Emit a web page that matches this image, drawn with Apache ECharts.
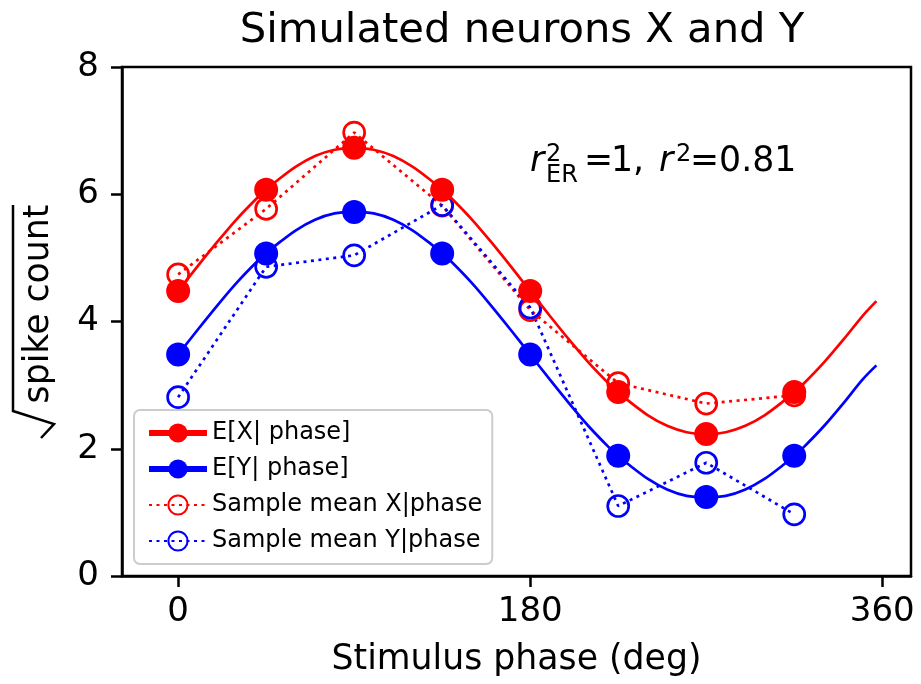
<!DOCTYPE html>
<html>
<head>
<meta charset="utf-8">
<script src="https://cdn.jsdelivr.net/npm/echarts@6.0.0/dist/echarts.min.js"></script>
<style>
  html, body { margin: 0; padding: 0; background: #fff; }
  #chart { width: 921px; height: 684px; }
</style>
</head>
<body>
<div id="chart"></div>
<script>
// smooth curves, every 10 deg plus the stimulus phases,
// last point where the curve stops
var curveAngles = [0, 10, 20, 30, 40, 45, 50, 60, 70, 80, 90, 100, 110, 120, 130, 135, 140, 150, 160, 170,
  180, 190, 200, 210, 220, 225, 230, 240, 250, 260, 270, 280, 290, 300, 310, 315, 320, 330, 340, 350, 357]
var curveX = [4.48, 4.87, 5.25, 5.61, 5.93, 6.07, 6.20, 6.43, 6.60, 6.70, 6.73, 6.70, 6.60, 6.43, 6.20, 6.07, 5.93, 5.61, 5.25, 4.87,
  4.48, 4.09, 3.71, 3.35, 3.03, 2.89, 2.76, 2.53, 2.36, 2.26, 2.23, 2.26, 2.36, 2.53, 2.76, 2.89, 3.03, 3.35, 3.71, 4.09, 4.32]
var curveY = [3.48, 3.87, 4.25, 4.61, 4.93, 5.07, 5.20, 5.43, 5.60, 5.70, 5.72, 5.70, 5.60, 5.43, 5.20, 5.07, 4.93, 4.61, 4.25, 3.87,
  3.48, 3.09, 2.71, 2.35, 2.03, 1.89, 1.76, 1.53, 1.36, 1.26, 1.24, 1.26, 1.36, 1.53, 1.76, 1.89, 2.03, 2.35, 2.71, 3.09, 3.31]

// sample means at the stimulus phases
var phases = [0, 45, 90, 135, 180, 225, 270, 315]
var sampleX = [4.74, 5.77, 6.97, 5.82, 4.18, 3.03, 2.71, 2.84]
var sampleY = [2.81, 4.86, 5.04, 5.83, 4.22, 1.10, 1.78, 0.97]

var xTicks = [0, 180, 360]
var yTicks = [0, 2, 4, 6, 8]

var FONT = 'DejaVu Sans'
var RED = '#ff0000'
var BLUE = '#0000ff'

function curveData (vals) {
  return curveAngles.map(function (a, i) {
    var onPhase = phases.indexOf(a) >= 0
    return { value: [a, vals[i]], symbol: onPhase ? 'circle' : 'none' }
  })
}
function pairs (vals) {
  return phases.map(function (p, i) { return [p, vals[i]] })
}

var chart = echarts.init(document.getElementById('chart'))
chart.setOption({
  animation: false,
  backgroundColor: '#fff',
  title: {
    text: 'Simulated neurons X and Y',
    left: 517,
    textAlign: 'center',
    top: 5,
    textStyle: { fontFamily: FONT, fontSize: 41.7, fontWeight: 'normal', color: '#000' }
  },
  grid: {
    left: 122, right: 10, top: 67, bottom: 108,
    show: true, borderColor: '#000', borderWidth: 2.5, backgroundColor: 'transparent'
  },
  xAxis: {
    type: 'value',
    min: -28.7,
    max: 374.7,
    name: 'Stimulus phase (deg)',
    nameLocation: 'middle',
    nameGap: 66,
    nameTextStyle: { fontFamily: FONT, fontSize: 34.7, color: '#000' },
    axisLine: { show: true, onZero: false, lineStyle: { color: '#000', width: 2.5 } },
    axisTick: { show: true, inside: false, length: 11, customValues: xTicks, lineStyle: { color: '#000', width: 2.5 } },
    axisLabel: { customValues: xTicks, margin: 19, fontFamily: FONT, fontSize: 34, color: '#000' },
    splitLine: { show: false }
  },
  yAxis: {
    type: 'value',
    min: 0,
    max: 8,
    interval: 2,
    axisLine: { show: true, onZero: false, lineStyle: { color: '#000', width: 2.5 } },
    axisTick: { show: true, inside: false, length: 11, customValues: yTicks, lineStyle: { color: '#000', width: 2.5 } },
    axisLabel: { customValues: yTicks, margin: 23, fontFamily: FONT, fontSize: 34, color: '#000' },
    splitLine: { show: false }
  },
  legend: {
    orient: 'vertical',
    left: 134,
    top: 410,
    itemWidth: 58,
    itemHeight: 24,
    itemGap: 12,
    padding: [11, 10, 11, 12],
    backgroundColor: 'rgba(255,255,255,0.8)',
    borderColor: '#cccccc',
    borderWidth: 2,
    borderRadius: 6,
    textStyle: { fontFamily: FONT, fontSize: 24, color: '#000' },
    data: [
      { name: 'E[X| phase]', lineStyle: { width: 6 } },
      { name: 'E[Y| phase]', lineStyle: { width: 6 } },
      { name: 'Sample mean X|phase' },
      { name: 'Sample mean Y|phase' }
    ]
  },
  series: [
    {
      name: 'Sample mean X|phase',
      type: 'line',
      z: 2,
      data: pairs(sampleX),
      symbol: 'circle',
      symbolSize: 21,
      itemStyle: { color: 'rgba(255,255,255,0)', borderColor: RED, borderWidth: 2.7 },
      lineStyle: { color: RED, width: 2.7, type: [3, 4.5] }
    },
    {
      name: 'Sample mean Y|phase',
      type: 'line',
      z: 2,
      data: pairs(sampleY),
      symbol: 'circle',
      symbolSize: 21,
      itemStyle: { color: 'rgba(255,255,255,0)', borderColor: BLUE, borderWidth: 2.7 },
      lineStyle: { color: BLUE, width: 2.7, type: [3, 4.5] }
    },
    {
      name: 'E[X| phase]',
      type: 'line',
      z: 3,
      smooth: 0.3,
      data: curveData(curveX),
      symbol: 'circle',
      symbolSize: 24,
      showAllSymbol: true,
      itemStyle: { color: RED },
      lineStyle: { color: RED, width: 2.7 }
    },
    {
      name: 'E[Y| phase]',
      type: 'line',
      z: 3,
      smooth: 0.3,
      data: curveData(curveY),
      symbol: 'circle',
      symbolSize: 24,
      showAllSymbol: true,
      itemStyle: { color: BLUE },
      lineStyle: { color: BLUE, width: 2.7 }
    }
  ],
  graphic: [
    // y axis label: sqrt(spike count)
    {
      type: 'polyline',
      shape: { points: [[13, 205], [13, 411], [54, 424], [41, 438]] },
      style: { stroke: '#000', lineWidth: 2.5, fill: null }
    },
    {
      type: 'text',
      x: 39, y: 304, rotation: Math.PI / 2,
      style: { text: 'spike count', font: '34.7px "DejaVu Sans"', fill: '#000', align: 'center', verticalAlign: 'middle' }
    },
    // annotation r^2_ER = 1, r^2=0.81
    { type: 'text', x: 530, y: 161.5, style: { text: 'r', font: 'italic 34.7px "DejaVu Sans"', fill: '#000', verticalAlign: 'middle' } },
    { type: 'text', x: 546, y: 155, style: { text: '2', font: '24px "DejaVu Sans"', fill: '#000', verticalAlign: 'middle' } },
    { type: 'text', x: 546, y: 176, style: { text: 'ER', font: '24px "DejaVu Sans"', fill: '#000', verticalAlign: 'middle' } },
    { type: 'text', x: 584, y: 161.5, style: { text: '=', font: '34.7px "DejaVu Sans"', fill: '#000', verticalAlign: 'middle' } },
    { type: 'text', x: 611, y: 161.5, style: { text: '1,', font: '34.7px "DejaVu Sans"', fill: '#000', verticalAlign: 'middle' } },
    { type: 'text', x: 659, y: 161.5, style: { text: 'r', font: 'italic 34.7px "DejaVu Sans"', fill: '#000', verticalAlign: 'middle' } },
    { type: 'text', x: 676, y: 155, style: { text: '2', font: '24px "DejaVu Sans"', fill: '#000', verticalAlign: 'middle' } },
    { type: 'text', x: 690, y: 161.5, style: { text: '=0.81', font: '34.7px "DejaVu Sans"', fill: '#000', verticalAlign: 'middle' } }
  ]
})
</script>
</body>
</html>
